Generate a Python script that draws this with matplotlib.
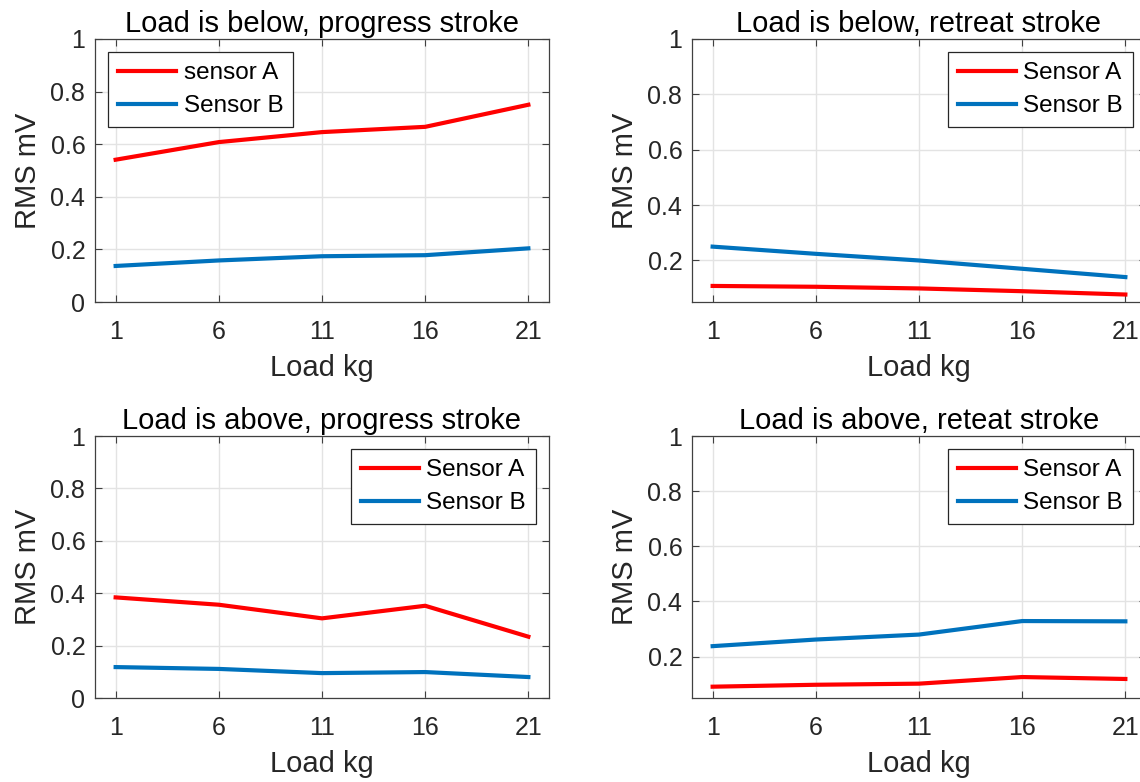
import matplotlib
matplotlib.use('Agg')
import matplotlib.pyplot as plt

plt.rcParams['font.family'] = ['Liberation Sans', 'DejaVu Sans']

# load values (kg)
load = [1, 6, 11, 16, 21]

# RMS mV
below_progress_A = [0.541, 0.608, 0.646, 0.666, 0.750]
below_progress_B = [0.137, 0.158, 0.174, 0.178, 0.204]
below_retreat_A = [0.108, 0.105, 0.099, 0.089, 0.077]
below_retreat_B = [0.250, 0.224, 0.200, 0.170, 0.140]
above_progress_A = [0.384, 0.356, 0.304, 0.352, 0.234]
above_progress_B = [0.118, 0.111, 0.095, 0.099, 0.080]
above_retreat_A = [0.091, 0.098, 0.102, 0.126, 0.119]
above_retreat_B = [0.238, 0.262, 0.280, 0.329, 0.328]

titles = ['Load is below, progress stroke', 'Load is below, retreat stroke',
          'Load is above, progress stroke', 'Load is above, reteat stroke']
labels_A = ['sensor A', 'Sensor A', 'Sensor A', 'Sensor A']
series = [(below_progress_A, below_progress_B), (below_retreat_A, below_retreat_B),
          (above_progress_A, above_progress_B), (above_retreat_A, above_retreat_B)]
ylow = [0, 0.05, 0, 0.05]
legend_loc = ['upper left', 'upper right', 'upper right', 'upper right']

red = '#FF0000'
blue = '#0072BD'

fig = plt.figure(figsize=(11.4, 7.82), dpi=100)
W, H = 1140.0, 782.0
# axes boxes in pixels: left, top, right, bottom
boxes = [(95, 39, 549, 302), (692, 39, 1146, 302),
         (95, 436, 549, 698), (692, 436, 1146, 698)]

for i in range(4):
    l, t, r, b = boxes[i]
    ax = fig.add_axes([l / W, 1 - b / H, (r - l) / W, (b - t) / H])
    ax.plot(load, series[i][0], color=red, linewidth=3, label=labels_A[i])
    ax.plot(load, series[i][1], color=blue, linewidth=3, label='Sensor B')
    ax.set_xlim(0, 22)
    ax.set_ylim(ylow[i], 1)
    ax.set_xticks(load)
    if ylow[i] == 0:
        ax.set_yticks([0, 0.2, 0.4, 0.6, 0.8, 1])
        ax.set_yticklabels(['0', '0.2', '0.4', '0.6', '0.8', '1'])
    else:
        ax.set_yticks([0.2, 0.4, 0.6, 0.8, 1])
        ax.set_yticklabels(['0.2', '0.4', '0.6', '0.8', '1'])
    ax.grid(True, color='#e3e3e3', linewidth=1)
    ax.set_axisbelow(True)
    ax.tick_params(direction='in', top=True, right=True, length=5,
                   width=0.8, color='#404040', labelsize=18, labelcolor='#262626')
    ax.tick_params(axis='x', pad=13)
    ax.tick_params(axis='y', pad=7)
    for s in ax.spines.values():
        s.set_color('#404040')
        s.set_linewidth(0.9)
    ax.set_title(titles[i], fontsize=21, pad=5)
    ax.set_xlabel('Load kg', fontsize=21, color='#262626', labelpad=7)
    ax.set_ylabel('RMS mV', fontsize=21, color='#262626', labelpad=6)
    leg = ax.legend(loc=legend_loc[i], fontsize=17.5, handlelength=2.4,
                    fancybox=False, framealpha=1, edgecolor='#262626',
                    borderaxespad=0.55, handletextpad=0.3, labelspacing=0.45,
                    borderpad=0.4)
    leg.get_frame().set_linewidth(0.9)

fig.savefig('out.png', dpi=100)
